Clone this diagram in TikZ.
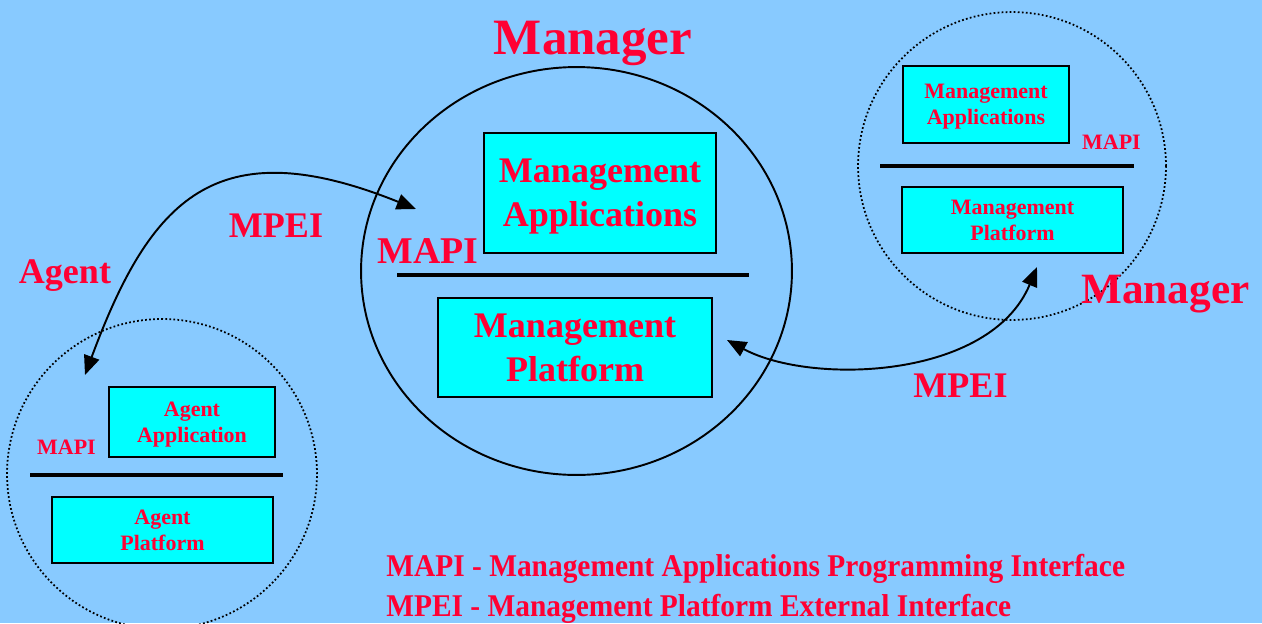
\documentclass[tikz,border=0pt]{standalone}
\usepackage{fontspec}
\setmainfont{Liberation Serif}
\newfontfamily\legendfont[FakeStretch=0.93]{Liberation Serif}
\usetikzlibrary{arrows.meta}
\definecolor{bgblue}{RGB}{136,202,255}
\definecolor{mpred}{RGB}{255,0,51}
\definecolor{boxcyan}{RGB}{0,255,255}
\tikzset{
  box/.style={draw, line width=1pt, fill=boxcyan, inner sep=0pt, align=center, text=mpred, text depth=0pt},
  lbl/.style={text=mpred, anchor=base, inner sep=0pt},
  bigtext/.style={font=\fontsize{20.5}{25}\selectfont\bfseries},
  smalltext/.style={font=\fontsize{12.5}{14.7}\selectfont\bfseries},
  bar/.style={line width=2.8pt},
  dotring/.style={line width=1pt, dash pattern=on 1pt off 1.3pt},
  link/.style={line width=1.1pt, {Triangle[length=11pt,width=9pt]}-{Triangle[length=11pt,width=9pt]}}
}
\begin{document}
\begin{tikzpicture}[x=0.02cm,y=-0.02cm]
  \fill[bgblue] (0,0) rectangle (1262,623);
  \useasboundingbox (0,0) rectangle (1262,623);

% Add the three rings.
    \draw[line width=1.1pt] (576.5,271) ellipse [x radius=4.31cm, y radius=4.08cm];
    \draw[dotring] (162,474) circle [radius=3.1cm];
    \draw[dotring] (1012,166) circle [radius=3.08cm];

% Add boxes of the middle manager.
    \node[box, bigtext, minimum width=4.64cm, minimum height=2.4cm] (mgrApps) at (600,193) {Management\\Applications};
    \node[box, bigtext, minimum width=5.48cm, minimum height=1.98cm] (mgrPlat) at (575,347.5) {Management\\Platform};
    \draw[bar] (397,275) -- (749,275);

% Add boxes of the agent.
    \node[box, smalltext, minimum width=3.32cm, minimum height=1.4cm] (agApp) at (192,422) {Agent\\Application};
    \node[box, smalltext, minimum width=4.42cm, minimum height=1.32cm] (agPlat) at (162.5,530) {Agent\\Platform};
    \draw[bar] (30,475) -- (283,475);

% Add boxes of the right manager.
    \node[box, smalltext, minimum width=3.32cm, minimum height=1.54cm] (rApps) at (986,104.5) {Management\\Applications};
    \node[box, smalltext, minimum width=4.42cm, minimum height=1.32cm] (rPlat) at (1012.5,220) {Management\\Platform};
    \draw[bar] (880,166) -- (1134,166);

% Labels
    \node[lbl, font=\fontsize{29}{30}\selectfont\bfseries] (mgrTop) at (593,54) {Manager};
    \node[lbl, font=\fontsize{21.5}{25}\selectfont\bfseries] (mapiBig) at (428,263) {MAPI};
    \node[lbl, bigtext] (mpeiTop) at (276,237) {MPEI};
    \node[lbl, bigtext] (agentLbl) at (65,283) {Agent};
    \node[lbl, smalltext] (mapiL) at (66.5,454) {MAPI};
    \node[lbl, smalltext] (mapiR) at (1111.5,149) {MAPI};
    \node[lbl, font=\fontsize{24.6}{28}\selectfont\bfseries] (mgrRight) at (1165.5,303) {Manager};
    \node[lbl, bigtext] (mpeiBot) at (960.5,397) {MPEI};

% Add the key at the bottom.
    \node[lbl, anchor=base west, font=\fontsize{18}{20}\legendfont\bfseries] (keyMapi) at (386,576) {MAPI - Management Applications Programming Interface};
    \node[lbl, anchor=base west, font=\fontsize{18}{20}\legendfont\bfseries] (keyMpei) at (386,616) {MPEI - Management Platform External Interface};

% Add the two MPEI links.
    \coordinate (agIn) at (85,375);
    \coordinate (mgrIn) at (416,209);
    \draw[link] (agIn) .. controls (150,200) and (215,128) .. (mgrIn);
    \coordinate (platIn) at (727,340);
    \coordinate (rIn) at (1037,267);
    \draw[link] (platIn) .. controls (810,385) and (990,380) .. (rIn);

\end{tikzpicture}
\end{document}
